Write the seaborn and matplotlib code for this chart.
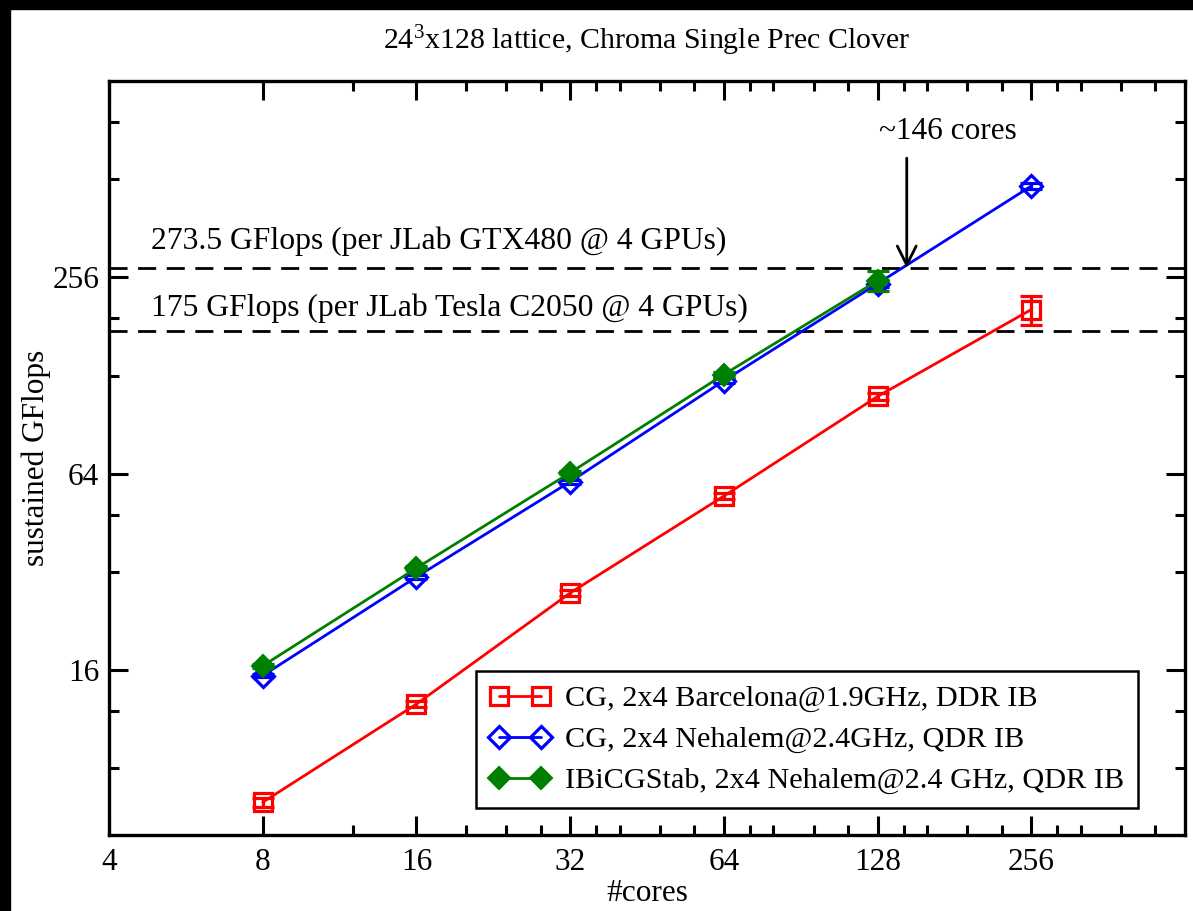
import numpy as np
import pandas as pd
import matplotlib
matplotlib.use("Agg")
import matplotlib.pyplot as plt
import seaborn as sns
from matplotlib.ticker import FixedLocator, FixedFormatter, NullFormatter
from matplotlib.patches import Rectangle

# ---------------- data ----------------
cores = [8, 16, 32, 64, 128, 256]
barcelona_cg = [6.3, 12.6, 27.6, 54.7, 110.5, 204]
barcelona_err = [0.2, 0.3, 0.6, 1.2, 3.0, 21]

nehalem_cg = [15.4, 30.9, 60.5, 123.5, 245, 488]
nehalem_cg_err = [0.2, 0.4, 0.8, 2.0, 6.0, 10]

cores_bicg = [8, 16, 32, 64, 128]
nehalem_bicg = [16.5, 32.9, 64.5, 129, 250]
nehalem_bicg_err = [0.2, 0.4, 0.8, 2.0, 18]

labels = ["CG, 2x4 Barcelona@1.9GHz, DDR IB",
          "CG, 2x4 Nehalem@2.4GHz, QDR IB",
          "IBiCGStab, 2x4 Nehalem@2.4 GHz, QDR IB"]

gpu_levels = [273.5, 175]
gpu_texts = ["273.5 GFlops (per JLab GTX480 @ 4 GPUs)",
             "175 GFlops (per JLab Tesla C2050 @ 4 GPUs)"]
crossover = 146
crossover_text = "~146 cores"

x_major = [4, 8, 16, 32, 64, 128, 256]
x_minor = [12, 20, 24, 28, 36, 40, 48, 56, 72, 80, 96, 112, 144, 160, 192, 224,
           288, 320, 384, 448]
y_major = [16, 64, 256]
y_minor = [8, 12, 32, 48, 128, 192, 512, 768]

# ---------------- style ----------------
sns.set_theme(style="ticks")
plt.rcParams["font.family"] = ["Liberation Serif", "DejaVu Serif"]
plt.rcParams["mathtext.fontset"] = "custom"
plt.rcParams["mathtext.rm"] = "Liberation Serif"
plt.rcParams["mathtext.it"] = "Liberation Serif:italic"
plt.rcParams["text.color"] = "black"
plt.rcParams["axes.labelcolor"] = "black"
plt.rcParams["xtick.color"] = "black"
plt.rcParams["ytick.color"] = "black"

fig = plt.figure(figsize=(11.93, 9.11), dpi=100)
fig.patch.set_facecolor("white")
ax_left, ax_right, ax_top, ax_bottom = 109, 1185, 81, 835
ax = fig.add_axes([ax_left / 1193, 1 - ax_bottom / 911,
                   (ax_right - ax_left) / 1193, (ax_bottom - ax_top) / 911])

# screenshot borders
fig.patches.append(Rectangle((0, 0), 10 / 1193, 1, transform=fig.transFigure,
                             color="black", zorder=10))
fig.patches.append(Rectangle((0, 1 - 9 / 911), 1, 9 / 911, transform=fig.transFigure,
                             color="black", zorder=10))

df_a = pd.DataFrame({"cores": cores, "gflops": barcelona_cg})
df_b = pd.DataFrame({"cores": cores, "gflops": nehalem_cg})
df_c = pd.DataFrame({"cores": cores_bicg, "gflops": nehalem_bicg})

lw = 2.0
sns.lineplot(data=df_a, x="cores", y="gflops", ax=ax, color="red", lw=lw,
             marker="s", markersize=12.5, markerfacecolor="none", markeredgecolor="red",
             markeredgewidth=2.3, label=labels[0], zorder=3)
sns.lineplot(data=df_b, x="cores", y="gflops", ax=ax, color="blue", lw=lw,
             marker="D", markersize=11.5, markerfacecolor="none", markeredgecolor="blue",
             markeredgewidth=2.3, label=labels[1], zorder=3)
sns.lineplot(data=df_c, x="cores", y="gflops", ax=ax, color="green", lw=lw,
             marker="D", markersize=11.5, markerfacecolor="green", markeredgecolor="green",
             markeredgewidth=1.5, label=labels[2], zorder=4)

ax.errorbar(cores, barcelona_cg, yerr=barcelona_err, fmt="none", ecolor="red",
            elinewidth=2.3, capsize=8, capthick=2.3, zorder=3)
ax.errorbar(cores, nehalem_cg, yerr=nehalem_cg_err, fmt="none", ecolor="blue",
            elinewidth=2.3, capsize=8, capthick=2.3, zorder=3)
ax.errorbar(cores_bicg, nehalem_bicg, yerr=nehalem_bicg_err, fmt="none", ecolor="green",
            elinewidth=2.3, capsize=8, capthick=2.3, zorder=4)

# GPU reference lines
for lvl in gpu_levels:
    ax.axhline(lvl, color="black", lw=2.0, dashes=(6.5, 3.8), zorder=2)
ax.text(4.83, 330, gpu_texts[0], fontsize=22.8, va="center", ha="left")
ax.text(4.83, 205.6, gpu_texts[1], fontsize=22.8, va="center", ha="left")

# crossover arrow
ax.annotate("", xy=(crossover, gpu_levels[0]), xytext=(crossover, 594),
            arrowprops=dict(arrowstyle="->", lw=2.0, color="black", mutation_scale=34,
                            shrinkA=0, shrinkB=0))
ax.text(176, 719, crossover_text, fontsize=22.5, ha="center", va="center")

# axes
ax.set_xscale("log", base=2)
ax.set_yscale("log", base=2)
ax.set_xlim(4, 512)
ax.set_ylim(5, 1024)
ax.xaxis.set_major_locator(FixedLocator(x_major))
ax.xaxis.set_major_formatter(FixedFormatter([str(v) for v in x_major]))
ax.xaxis.set_minor_locator(FixedLocator(x_minor))
ax.xaxis.set_minor_formatter(NullFormatter())
ax.yaxis.set_major_locator(FixedLocator(y_major))
ax.yaxis.set_major_formatter(FixedFormatter([str(v) for v in y_major]))
ax.yaxis.set_minor_locator(FixedLocator(y_minor))
ax.yaxis.set_minor_formatter(NullFormatter())

ax.tick_params(which="both", direction="in", top=True, right=True, width=2.2,
               colors="black")
ax.tick_params(which="major", length=14, labelsize=22.5, pad=9)
ax.tick_params(axis="y", which="major", pad=7)
ax.tick_params(which="minor", length=7)
for s in ax.spines.values():
    s.set_linewidth(2.4)
    s.set_color("black")

ax.set_xlabel("#cores", fontsize=22.5, labelpad=2)
ax.set_ylabel("sustained GFlops", fontsize=22.5, labelpad=1)
fig.text((ax_left + ax_right) / 2 / 1193, 1 - 41 / 911,
         r"24$^{3}$x128 lattice, Chroma Single Prec Clover",
         fontsize=21.5, ha="center", va="center")

leg = ax.legend(loc="lower right", bbox_to_anchor=(0.9563, 0.0358), numpoints=2,
                fontsize=21.8, frameon=True, fancybox=False, framealpha=1,
                edgecolor="black", handlelength=2.0, handletextpad=0.5,
                labelspacing=0.45, borderpad=0.45, borderaxespad=0)
leg.get_frame().set_linewidth(1.8)

fig.savefig("out.png", dpi=100, facecolor="white")
